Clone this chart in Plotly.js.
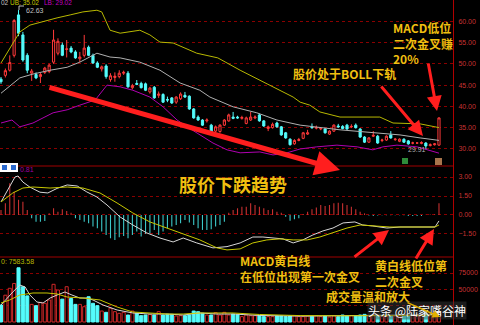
<!DOCTYPE html>
<html><head><meta charset="utf-8">
<script src="https://cdn.plot.ly/plotly-3.0.1.min.js"></script>
<style>html,body{margin:0;padding:0;background:#000;overflow:hidden}#chart{width:480px;height:325px}</style>
</head><body><div id="chart"></div>
<script>
// ---- price candles ----
const openP  = [46.4,47.3,48.5,52.0,61.5,56.8,52.0,47.8,47.5,47.0,48.0,48.2,50.4,52.5,54.4,53.4,53.7,52.8,51.2,52.0,53.9,52.0,50.2,48.8,49.5,46.3,46.8,47.0,47.8,47.8,44.4,45.4,45.4,45.3,43.4,44.5,42.6,42.8,41.6,42.0,41.0,41.8,42.6,42.4,39.4,37.5,36.8,36.6,35.6,34.2,34.1,35.6,36.6,37.5,37.5,37.2,36.0,36.8,37.3,38.0,36.6,34.8,35.0,36.1,35.2,33.8,32.3,31.2,32.0,32.5,33.5,35.2,34.9,34.7,34.7,33.5,34.2,35.4,35.3,35.6,35.2,35.6,34.7,32.8,31.6,33.0,33.0,32.0,32.1,33.3,32.2,31.8,32.3,31.9,31.4,31.4,31.3,31.4,30.8,31.0,30.9];
const highP  = [46.9,48.9,52.0,60.5,62.63,57.5,52.5,48.8,48.0,47.9,49.3,50.0,58.0,56.0,55.0,55.6,54.2,53.2,52.8,56.8,54.3,52.4,50.6,49.6,49.9,47.8,48.0,48.5,48.4,48.3,45.3,46.2,45.8,45.6,44.6,44.8,43.5,43.1,42.3,42.2,42.4,43.3,43.4,42.6,39.6,37.9,37.0,37.2,35.9,35.5,35.8,37.0,38.3,38.7,37.8,37.8,37.6,38.7,37.9,38.3,36.8,35.5,36.2,36.4,35.4,34.0,32.5,32.3,32.6,34.0,34.5,36.0,35.5,35.0,34.9,34.4,35.8,35.9,35.6,35.9,35.8,36.0,34.9,33.0,32.8,34.2,33.3,32.4,33.2,34.2,32.6,32.5,32.5,32.1,31.7,31.6,31.8,31.6,31.3,31.4,37.4];
const lowP   = [45.3,46.8,48.2,51.5,56.5,50.5,47.8,46.0,46.4,45.5,47.6,47.8,50.0,52.0,51.8,51.5,52.5,51.2,50.4,51.5,51.8,50.0,49.0,48.2,46.5,45.8,45.8,46.6,47.4,44.4,44.0,45.0,44.2,43.6,43.0,41.8,42.0,40.8,41.0,40.6,40.6,41.5,42.0,39.2,37.1,36.6,35.4,36.2,33.8,33.9,33.8,35.4,36.4,37.0,37.1,36.9,35.8,36.6,37.0,36.4,35.2,34.2,34.8,35.0,33.1,32.4,30.8,31.0,31.8,32.3,33.3,34.8,34.6,34.4,33.6,33.3,34.0,35.0,34.6,34.5,34.9,34.8,32.6,31.4,31.4,32.8,31.2,31.6,31.9,32.4,31.9,31.6,31.4,31.0,31.1,31.2,31.1,29.91,30.6,30.8,30.8];
const closeP = [45.8,48.4,50.3,60.2,57.2,50.9,48.5,48.3,46.7,47.5,49.0,49.7,55.6,55.3,52.0,53.5,52.8,51.4,51.6,53.7,52.0,50.2,49.2,49.3,47.0,47.2,47.1,47.8,48.0,44.6,44.9,45.2,44.4,43.8,44.3,42.0,42.9,41.0,41.5,40.8,42.2,42.9,42.2,39.4,37.3,36.8,35.6,36.8,34.0,35.2,35.6,36.8,38.0,37.2,37.3,37.4,37.3,37.5,37.5,36.6,35.4,35.2,35.8,35.2,33.3,32.6,31.0,32.0,32.2,33.8,33.8,35.0,35.0,34.8,33.8,34.2,35.6,35.2,34.8,34.7,35.3,35.0,32.8,31.6,32.6,33.2,31.4,32.1,33.0,32.6,32.3,32.3,31.6,31.2,31.4,31.4,31.5,30.7,31.0,31.2,37.3];

// ---- BOLL lines (read at sample positions) ----
const bollUpX  = [0,4.3,6.6,9.6,12.8,15.8,18.7,21.9,23,24.9,27.2,31.7,34,36.3,39.3,44.7,49.5,54.6,61.4,66.7,68.3,70.5,72.8,77.4,86.5,89.5,95.7,100];
const bollUp   = [50.2,57.5,59.1,60.0,60.8,61.5,62.2,62.6,62.2,57.9,57.2,57.9,56.8,55.1,54.9,52.5,51.4,48.5,45.0,42.2,41.0,40.3,38.7,37.5,37.5,36.1,35.9,35.02];
const bollMidX = [0,4.3,7.3,11.2,15.1,18,21.9,24.9,27.2,31.7,36.3,40.9,45.4,47.7,53,58.4,63,68.3,77.4,86.5,91.1,95.7,100];
const bollMid  = [43.1,46.7,47.6,48.5,49.2,50.4,52.5,51.6,51.4,50.4,48.5,45.5,43.8,42.2,39.9,38.5,36.8,35.6,34.5,33.8,33.3,32.6,32.02];
const bollLowX = [0,2.5,4.3,7.3,11.9,15.1,18,21.5,24.2,27.2,30.1,34,37,40.2,42.5,45.4,48.4,51.6,54.6,59.1,62.1,65.3,68.3,72.1,76.7,81.3,84.9,87.2,90.4,95,100];
const bollLow  = [36.1,36.8,35.2,36.1,38.5,39.2,40.3,41.5,45.0,44.6,43.8,42.2,39.9,36.8,35.2,33.3,31.4,29.8,29.1,29.3,28.6,29.1,30.0,30.5,30.9,30.5,29.8,30.5,30.9,30.5,29.02];

// ---- MACD ----
const difX = [0,1.6,3.2,3.9,5,6.6,8.9,10.7,12.8,15.1,17.4,19.6,21.9,24.2,27.2,30.1,33.3,36.3,39.3,41.6,44.7,48.4,51.6,54.6,57.5,59.8,62.1,64.4,66.7,68.9,71.2,73.5,75.8,78.1,80.8,82.6,84.9,88.1,91.1,94.1,97.3,99.1,100];
const dif  = [1.03,1.97,3.0,3.08,2.6,2.2,1.8,1.74,2.1,2.37,2.29,1.82,1.42,0.79,-0.16,-0.79,-1.42,-1.82,-2.13,-1.82,-2.21,-2.6,-2.5,-2.21,-1.74,-1.74,-1.82,-1.89,-2.21,-1.97,-1.58,-1.26,-1.03,-0.63,-0.55,-0.79,-0.87,-1.03,-0.95,-0.95,-0.95,-0.95,-0.47];
const deaX = [0,2.7,5,7.3,11.2,15.1,18.7,22.6,26.5,30.1,34,37.9,41.6,45.4,49.3,51.6,54.6,57.5,60.7,63.7,66.7,69.9,72.8,75.8,79,82,84.9,88.8,92.7,95.7,99.1,100];
const dea  = [1.03,1.74,2.13,2.21,2.13,2.21,2.13,1.74,0.95,0.16,-0.55,-1.03,-1.5,-1.97,-2.6,-2.76,-2.68,-2.21,-1.97,-1.89,-1.97,-1.97,-1.74,-1.42,-1.03,-0.79,-0.87,-0.95,-0.95,-0.95,-0.95,-0.79];
const macdHist = [0.39,0.92,2.5,1.84,1.2,1.05,0.4,-0.26,-0.53,-0.53,-0.47,0.13,0.53,0.26,0.45,0.32,0.18,-0.26,-0.4,-0.53,-0.66,-0.92,-1.05,-1.31,-1.58,-1.84,-1.97,-1.76,-1.66,-1.84,-1.58,-1.31,-1.71,-1.5,-1.45,-1.18,-1.58,-1.31,-1.05,-0.92,-0.79,-0.66,-0.4,-0.6,-0.79,-1.05,-1.18,-1.18,-1.13,-0.92,-0.79,-0.53,0.18,0.39,0.53,0.66,0.66,0.92,0.79,0.66,0.53,0.4,0.45,0.26,0.18,-0.13,-0.45,-0.34,-0.26,0.08,0.26,0.45,0.6,0.79,0.71,0.79,0.92,0.97,0.92,0.79,0.66,0.45,0.26,0.13,-0.05,-0.08,-0.05,-0.02,-0.02,-0.02,-0.02,-0.02,-0.02,-0.08,-0.08,-0.08,-0.08,0.02,0.03,0.05,0.92];

// ---- Volume ----
const volume = [26000,41000,51600,59000,83000,54000,40000,27000,25000,30000,28600,33700,57700,49000,35000,54000,36000,27000,27000,23400,38700,28600,25000,16800,14800,21000,15800,13300,14800,10700,16800,13300,9700,10700,11700,10700,15800,10700,11700,11700,9200,9700,9700,10700,16800,15800,13300,10700,10700,14300,10700,14800,10700,12000,11000,8200,10700,9700,9700,9700,8200,8200,8200,9200,9200,8200,9200,9700,8200,8200,9200,8700,9700,8200,9200,7650,9700,8200,10700,9200,9700,9200,10700,11700,9700,10700,9200,9700,9200,9200,9200,9200,9700,9700,10200,10700,11200,12700,12200,13300,15800];
const volMa5X  = [0,1.4,2.7,4.3,5.5,6.6,8.2,9.6,11.2,12.8,14.6,16.2,18,19.6,21,23.3,26.5,30.1,34,37.9,41.6,45.4,49.3,53,59,68.3,77.4,86.5,93.4,96.8,100];
const volMa5   = [26000,36700,45900,56600,53600,41300,30600,29100,36700,41300,45900,41300,36700,36700,33700,26000,18400,13800,12200,12200,10700,13800,12200,12200,10000,9000,9500,9500,10000,11000,13000];
const volMa10X = [0,2,4.3,7.3,10.5,12.8,15.1,18.7,22.6,26.5,30.1,34,37.9,41.6,45.4,49.3,53,59,68.3,77.4,86.5,95.7,100];
const volMa10  = [29100,33700,41300,44400,44400,42900,38200,36700,33700,23000,15300,13800,12200,12200,13800,13800,13800,11500,9800,9500,9600,10000,11000];

// ---- axis ticks ----
const priceTicks = [30,35,40,45,50,55,60];
const macdTicks  = [-1.5,0,1.5,3];
const volTicks   = [25000,50000,75000];
const volTickText = ['', '50000', '75000']; // 25000 label is hidden under the watermark in the reference

const N = closeP.length;
const idx = Array.from({length:N},(_,i)=>i);
const UP='#ff3a3a', DN='#54fcfc';
const isUp = idx.map(i=>closeP[i]>=openP[i]);

const traces = [
  {type:'candlestick', x:idx, open:openP, high:highP, low:lowP, close:closeP, xaxis:'x', yaxis:'y',
   increasing:{line:{color:UP,width:1}, fillcolor:'#000000'},
   decreasing:{line:{color:DN,width:1}, fillcolor:DN}, whiskerwidth:0, hoverinfo:'skip'},
  {type:'scatter', mode:'lines', x:bollUpX, y:bollUp, xaxis:'x', yaxis:'y', line:{color:'#b8b800',width:1}, hoverinfo:'skip'},
  {type:'scatter', mode:'lines', x:bollMidX, y:bollMid, xaxis:'x', yaxis:'y', line:{color:'#b0b0b0',width:1}, hoverinfo:'skip'},
  {type:'scatter', mode:'lines', x:bollLowX, y:bollLow, xaxis:'x', yaxis:'y', line:{color:'#b000b0',width:1}, hoverinfo:'skip'},
  {type:'bar', x:idx, y:macdHist, xaxis:'x', yaxis:'y2', width:0.25,
   marker:{color:macdHist.map(v=>v>=0?'#c83030':'#3cc8c8'), line:{width:0}}, hoverinfo:'skip'},
  {type:'scatter', mode:'lines', x:difX, y:dif, xaxis:'x', yaxis:'y2', line:{color:'#d8d8d8',width:1}, hoverinfo:'skip'},
  {type:'scatter', mode:'lines', x:deaX, y:dea, xaxis:'x', yaxis:'y2', line:{color:'#c8c800',width:1}, hoverinfo:'skip'},
  {type:'bar', x:idx, y:volume, xaxis:'x', yaxis:'y3', width:0.7,
   marker:{color:isUp.map(u=>u?'#000000':DN), line:{color:isUp.map(u=>u?'#d02828':DN), width:1}}, hoverinfo:'skip'},
  {type:'scatter', mode:'lines', x:volMa5X, y:volMa5, xaxis:'x', yaxis:'y3', line:{color:'#d8d8d8',width:1}, hoverinfo:'skip'},
  {type:'scatter', mode:'lines', x:volMa10X, y:volMa10, xaxis:'x', yaxis:'y3', line:{color:'#c8c800',width:1}, hoverinfo:'skip'}
];

const W=453, H=325;
const px = v=>v/W, py = v=>1-v/H;
const gold = '#f0bf10';
const cjk = 'Noto Sans CJK SC';
const small = 'Liberation Sans';
function txt(x,y,t,opt){return Object.assign({xref:'paper',yref:'paper',x:px(x),y:py(y),text:t,showarrow:false,xanchor:'left',yanchor:'middle',align:'left',
  borderpad:0, font:{family:cjk,size:12,color:gold,weight:'bold'}},opt||{});}
function arrow(x0,y0,x1,y1,w){return {xref:'paper',yref:'paper',x:px(x1),y:py(y1),ax:x0-x1,ay:y0-y1,axref:'pixel',ayref:'pixel',text:'',showarrow:true,
  arrowhead:2,arrowsize:1,arrowwidth:w,arrowcolor:'#ff1e1e',standoff:0,startstandoff:0};}

const axBase = {side:'right', showline:true, linecolor:'#b00000', linewidth:1, ticks:'', zeroline:false,
  showgrid:true, gridcolor:'#8a0000', griddash:'dot', gridwidth:1, tickfont:{family:small,size:7,color:'#c83232'},
  ticklabelstandoff:3, fixedrange:true};

const layout = {
  width:480, height:325, paper_bgcolor:'#000', plot_bgcolor:'#000', showlegend:false,
  margin:{l:0,r:27,t:0,b:0},
  xaxis:{range:[-0.228,103.2], visible:false, rangeslider:{visible:false}, fixedrange:true},
  yaxis:Object.assign({}, axBase, {domain:[1-166/325,1], range:[26.0,65.0], tickvals:priceTicks, tickformat:'.2f', anchor:'x'}),
  yaxis2:Object.assign({}, axBase, {domain:[1-257/325,1-166/325], range:[-3.32,3.87], tickvals:macdTicks, tickformat:'.2f', anchor:'x'}),
  yaxis3:Object.assign({}, axBase, {domain:[0,1-257/325], range:[-4600,99500], tickvals:volTicks, ticktext:volTickText, anchor:'x'}),
  shapes:[
    {type:'line',xref:'paper',yref:'paper',x0:0,x1:1,y0:py(166),y1:py(166),line:{color:'#a00000',width:1}},
    {type:'line',xref:'paper',yref:'paper',x0:0,x1:1,y0:py(257),y1:py(257),line:{color:'#a00000',width:1}},
    {type:'rect',xref:'paper',yref:'paper',x0:px(402),x1:px(408),y0:py(164),y1:py(158),fillcolor:'#2e8b3a',line:{width:0}},
    {type:'rect',xref:'paper',yref:'paper',x0:px(435),x1:px(442),y0:py(165),y1:py(158),fillcolor:'#a8744c',line:{width:0}},
    {type:'rect',xref:'paper',yref:'paper',x0:px(0),x1:px(18),y0:py(172),y1:py(163),fillcolor:'#ffffff',line:{width:0}},
    {type:'rect',xref:'paper',yref:'paper',x0:px(2),x1:px(7),y0:py(170),y1:py(165),fillcolor:'#2a6ad0',line:{width:0}},
    {type:'rect',xref:'paper',yref:'paper',x0:px(11),x1:px(16),y0:py(170),y1:py(165),fillcolor:'#2a6ad0',line:{width:0}},
    {type:'line',xref:'paper',yref:'paper',x0:px(19),x1:px(19),y0:py(10),y1:py(6),line:{color:'#c0c0c0',width:1}},
    {type:'line',xref:'paper',yref:'paper',x0:px(19),x1:px(24),y0:py(6),y1:py(6),line:{color:'#c0c0c0',width:1}}
  ],
  annotations:[
    txt(0,2,'02',{font:{family:small,size:6.5,color:'#c0c0c0'}}),
    txt(9,2,'UB: 35.02',{font:{family:small,size:6.5,color:'#c8c800'}}),
    txt(43,2,'LB: 29.02',{font:{family:small,size:6.5,color:'#c000c0'}}),
    txt(25,10,'62.63',{font:{family:small,size:7,color:'#c0c0c0'}}),
    txt(407,149,'29.91',{font:{family:small,size:7,color:'#b0b0b0'}}),
    txt(19,169,'0.81',{font:{family:small,size:7,color:'#a000a0'}}),
    txt(0,261,'0: 7583.58',{font:{family:small,size:7,color:'#b8b800'}}),
    txt(178,184,'股价下跌趋势',{font:{family:cjk,size:18,color:gold,weight:'bold'}}),
    txt(392,43,'MACD低位<br>二次金叉赚<br>20%'),
    txt(292,73,'股价处于BOLL下轨'),
    txt(239,268,'MACD黄白线<br>在低位出现第一次金叉'),
    txt(374,273,'黄白线低位第<br>二次金叉'),
    txt(325,296,'成交量温和放大'),
    txt(367,310,'头条 @陆家嘴谷神',{bgcolor:'rgba(60,60,60,0.45)',font:{family:cjk,size:12,color:'#ffffff'}}),
    arrow(48,87,340,170,5),
    arrow(380,85,423,136,3),
    arrow(428,62,437,111,3),
    arrow(353,258,389,230,3),
    arrow(415,260,434,229,3),
    {xref:'paper',yref:'paper',x:px(440),y:py(317),ax:-34,ay:-15,axref:'pixel',ayref:'pixel',text:'',showarrow:true,arrowhead:2,arrowsize:1,arrowwidth:1.5,arrowcolor:'#e0b000'}
  ]
};

Plotly.newPlot('chart', traces, layout, {staticPlot:true, displayModeBar:false});
</script></body></html>
